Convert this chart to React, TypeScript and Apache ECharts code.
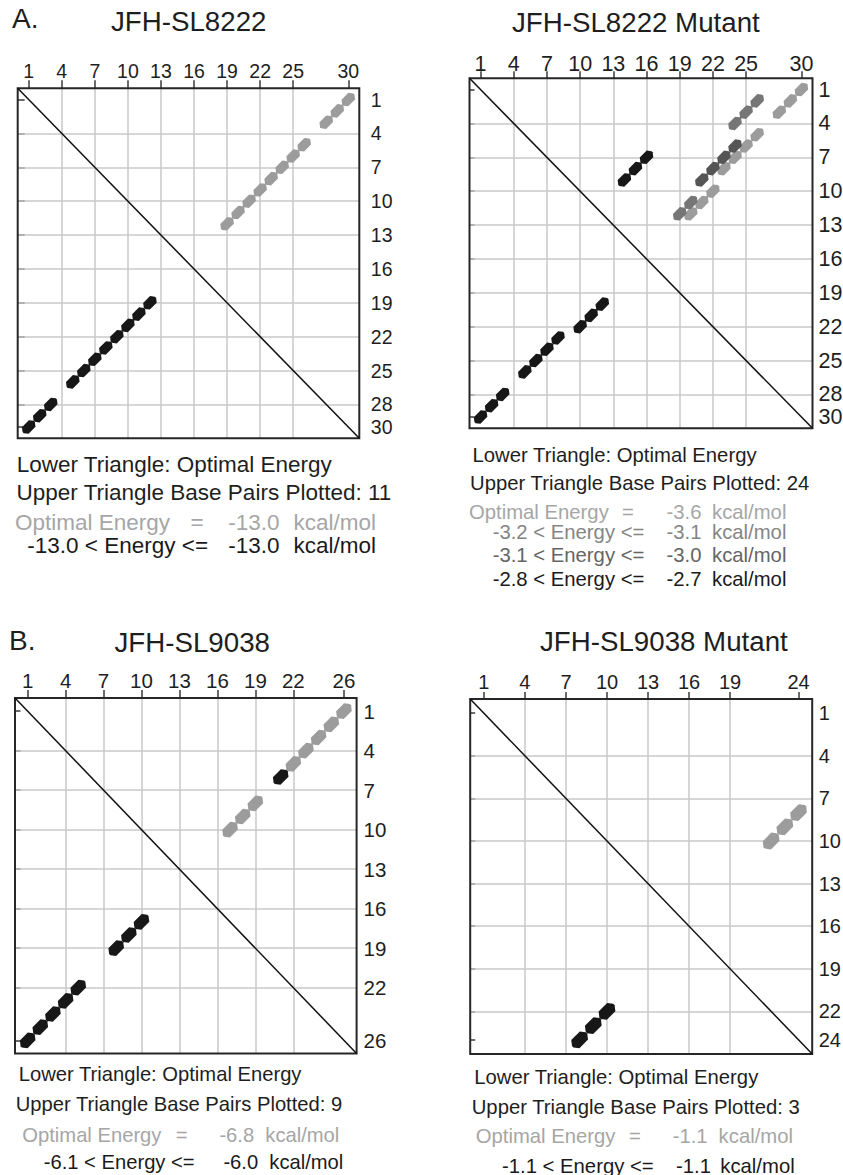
import React, { useEffect, useRef } from "react";
import * as echarts from "echarts";

const FONT = "'Liberation Sans', Arial, Helvetica, sans-serif";

// ---------- Data ----------
// Panel A1: JFH-SL8222
const A1_TITLE = "JFH-SL8222";
const A1_N = 30;
const A1_X_TICKS = [1, 4, 7, 10, 13, 16, 19, 22, 25, 30];
const A1_Y_TICKS = [1, 4, 7, 10, 13, 16, 19, 22, 25, 28, 30];
const A1_OPTIMAL = [[1, 30], [2, 29], [3, 28], [5, 26], [6, 25], [7, 24], [8, 23], [9, 22], [10, 21], [11, 20], [12, 19]];
const A1_ENERGY_LABELS = ["Optimal Energy", "-13.0 < Energy <="];
const A1_ENERGY_VALUES = ["-13.0", "-13.0"];
const A1_PAIR_COUNT = 11;

// Panel A2: JFH-SL8222 Mutant
const A2_TITLE = "JFH-SL8222 Mutant";
const A2_N = 30;
const A2_X_TICKS = [1, 4, 7, 10, 13, 16, 19, 22, 25, 30];
const A2_Y_TICKS = [1, 4, 7, 10, 13, 16, 19, 22, 25, 28, 30];
const A2_OPTIMAL = [[1, 30], [2, 29], [3, 28], [5, 26], [6, 25], [7, 24], [8, 23], [10, 22], [11, 21], [12, 20]];
const A2_SUB1 = [[2, 26], [3, 25], [4, 24], [11, 20], [12, 19]];
const A2_SUB2 = [[6, 24], [7, 23], [8, 22], [9, 21]];
const A2_SUB3 = [[7, 16], [8, 15], [9, 14]];
const A2_ENERGY_LABELS = ["Optimal Energy", "-3.2 < Energy <=", "-3.1 < Energy <=", "-2.8 < Energy <="];
const A2_ENERGY_VALUES = ["-3.6", "-3.1", "-3.0", "-2.7"];
const A2_PAIR_COUNT = 24;

// Panel B1: JFH-SL9038
const B1_TITLE = "JFH-SL9038";
const B1_N = 26;
const B1_X_TICKS = [1, 4, 7, 10, 13, 16, 19, 22, 26];
const B1_Y_TICKS = [1, 4, 7, 10, 13, 16, 19, 22, 26];
const B1_OPTIMAL = [[1, 26], [2, 25], [3, 24], [4, 23], [5, 22], [8, 19], [9, 18], [10, 17]];
const B1_SUB1 = [[6, 21]];
const B1_ENERGY_LABELS = ["Optimal Energy", "-6.1 < Energy <="];
const B1_ENERGY_VALUES = ["-6.8", "-6.0"];
const B1_PAIR_COUNT = 9;

// Panel B2: JFH-SL9038 Mutant
const B2_TITLE = "JFH-SL9038 Mutant";
const B2_N = 24;
const B2_X_TICKS = [1, 4, 7, 10, 13, 16, 19, 24];
const B2_Y_TICKS = [1, 4, 7, 10, 13, 16, 19, 22, 24];
const B2_OPTIMAL = [[8, 24], [9, 23], [10, 22]];
const B2_ENERGY_LABELS = ["Optimal Energy", "-1.1 < Energy <="];
const B2_ENERGY_VALUES = ["-1.1", "-1.1"];
const B2_PAIR_COUNT = 3;

// ---------- Styles ----------
const C_OPT = "#9c9c9c";
const C_MID = "#767676";
const C_DARK = "#555555";
const C_BLACK = "#171717";
const T_OPT = "#a6a6a6";
const T_MID = "#858585";
const T_DARK = "#656565";
const T_BLACK = "#1a1a1a";
const TEXT = "#1e1e1e";
const DOT_PATH = "path://M0,4.2 L4,0.2 L17,0.2 L21,4.2 L21,5.8 L17,9.8 L4,9.8 L0,5.8 Z";

type Panel = {
  title: string;
  label?: string;
  n: number;
  xTicks: number[];
  yTicks: number[];
  optimal: number[][];
  upper: { pairs: number[][]; color: string }[];
  energyLabels: string[];
  energyValues: string[];
  energyColors: string[];
  count: number;
  L: any;
};

const panels: Panel[] = [
  {
    title: A1_TITLE, label: "A.", n: A1_N, xTicks: A1_X_TICKS, yTicks: A1_Y_TICKS,
    optimal: A1_OPTIMAL,
    upper: [{ pairs: A1_OPTIMAL, color: C_OPT }],
    energyLabels: A1_ENERGY_LABELS, energyValues: A1_ENERGY_VALUES,
    energyColors: [T_OPT, T_BLACK], count: A1_PAIR_COUNT,
    L: {
      grid: { left: 17.7, top: 88.3, width: 341.6, height: 350 },
      tickFont: 19.5, topTick: 8, topMargin: 7, rightTick: 7, rightMargin: 11.5,
      dotL: 15.8, dotW: 9.4,
      titleX: 111, titleY: 21.7, labelX: 12, labelY: 18.8, labelFont: 28,
      font: 22.5,
      lines: [[16.7, 464.2], [16.5, 492.5]],
      rows: [
        { y: 522.8, x: 15, eq: 190.5, v: 228.3, u: 293.5 },
        { y: 545.8, x: 27.3, v: 228.3, u: 293.5 },
      ],
    },
  },
  {
    title: A2_TITLE, n: A2_N, xTicks: A2_X_TICKS, yTicks: A2_Y_TICKS,
    optimal: A2_OPTIMAL,
    upper: [
      { pairs: A2_OPTIMAL, color: C_OPT },
      { pairs: A2_SUB1, color: C_MID },
      { pairs: A2_SUB2, color: C_DARK },
      { pairs: A2_SUB3, color: C_BLACK },
    ],
    energyLabels: A2_ENERGY_LABELS, energyValues: A2_ENERGY_VALUES,
    energyColors: [T_OPT, T_MID, T_DARK, T_BLACK], count: A2_PAIR_COUNT,
    L: {
      grid: { left: 469.5, top: 78.3, width: 343, height: 350 },
      tickFont: 21.5, topTick: 7, topMargin: 3.5, rightTick: 5, rightMargin: 6,
      dotL: 15.8, dotW: 9.4,
      titleX: 512, titleY: 22,
      font: 20.3,
      lines: [[472.5, 455.3], [470, 483.3]],
      rows: [
        { y: 511.7, x: 469, eq: 622, v: 666.5, u: 712 },
        { y: 531.7, x: 492.7, v: 666.5, u: 712 },
        { y: 554.8, x: 492.7, v: 666.5, u: 712 },
        { y: 579.2, x: 492.7, v: 666.5, u: 712 },
      ],
    },
  },
  {
    title: B1_TITLE, label: "B.", n: B1_N, xTicks: B1_X_TICKS, yTicks: B1_Y_TICKS,
    optimal: B1_OPTIMAL,
    upper: [
      { pairs: B1_OPTIMAL, color: C_OPT },
      { pairs: B1_SUB1, color: C_BLACK },
    ],
    energyLabels: B1_ENERGY_LABELS, energyValues: B1_ENERGY_VALUES,
    energyColors: [T_OPT, T_BLACK], count: B1_PAIR_COUNT,
    L: {
      grid: { left: 15, top: 698, width: 341.6, height: 355.5 },
      tickFont: 20.5, topTick: 8, topMargin: 6.8, rightTick: 5.5, rightMargin: 7,
      dotL: 18.2, dotW: 10.8,
      titleX: 114.5, titleY: 642.5, labelX: 9, labelY: 640, labelFont: 28,
      font: 20.2,
      lines: [[18.7, 1074.3], [15.7, 1104.2]],
      rows: [
        { y: 1134.5, x: 22.3, eq: 175.7, v: 219.4, u: 265.3 },
        { y: 1162.2, x: 43.7, v: 223.4, u: 269.3 },
      ],
    },
  },
  {
    title: B2_TITLE, n: B2_N, xTicks: B2_X_TICKS, yTicks: B2_Y_TICKS,
    optimal: B2_OPTIMAL,
    upper: [{ pairs: B2_OPTIMAL, color: C_OPT }],
    energyLabels: B2_ENERGY_LABELS, energyValues: B2_ENERGY_VALUES,
    energyColors: [T_OPT, T_BLACK], count: B2_PAIR_COUNT,
    L: {
      grid: { left: 470.2, top: 699, width: 342, height: 355 },
      tickFont: 20, topTick: 7, topMargin: 6.8, rightTick: 5, rightMargin: 6.5,
      dotL: 19.6, dotW: 11.6,
      titleX: 540, titleY: 641.7,
      font: 20.3,
      lines: [[474.2, 1077], [471.7, 1107]],
      rows: [
        { y: 1135.5, x: 475.7, eq: 629, v: 672.7, u: 718.6 },
        { y: 1165.5, x: 502, v: 676, u: 720.3 },
      ],
    },
  },
];

function txt(x: number, y: number, text: string, size: number, color: string) {
  return {
    type: "text",
    x,
    y,
    silent: true,
    style: {
      text,
      fill: color,
      fontSize: size,
      fontFamily: FONT,
      align: "left",
      verticalAlign: "middle",
      textAlign: "left",
      textVerticalAlign: "middle",
    },
  };
}

function buildOption() {
  const grid: any[] = [];
  const xAxis: any[] = [];
  const yAxis: any[] = [];
  const series: any[] = [];
  const graphic: any[] = [];

  panels.forEach((p, idx) => {
    const L = p.L;
    grid.push({
      ...L.grid,
      show: true,
      borderColor: "#262626",
      borderWidth: 2,
      backgroundColor: "transparent",
      containLabel: false,
      outerBoundsMode: "none",
      z: 3,
    });
    const labelStyle = { fontSize: L.tickFont, fontFamily: FONT, color: TEXT };
    xAxis.push({
      gridIndex: idx,
      type: "value",
      position: "top",
      min: 0,
      max: p.n + 1,
      axisLine: { show: false },
      splitLine: { show: false },
      axisTick: {
        show: true, inside: false, length: L.topTick,
        lineStyle: { color: "#3a3a3a", width: 1.5 },
        customValues: p.xTicks,
      },
      axisLabel: { show: true, margin: L.topMargin, ...labelStyle, customValues: p.xTicks },
    });
    yAxis.push({
      gridIndex: idx,
      type: "value",
      position: "right",
      inverse: true,
      min: 0,
      max: p.n + 1,
      axisLine: { show: false },
      splitLine: { show: false },
      axisTick: {
        show: true, inside: false, length: L.rightTick,
        lineStyle: { color: "#3a3a3a", width: 1.5 },
        customValues: p.yTicks,
      },
      axisLabel: { show: true, margin: L.rightMargin, align: "left", ...labelStyle, customValues: p.yTicks },
    });

    const gridX = p.xTicks.filter((v) => v !== 1 && v !== p.n);
    const gridY = p.yTicks.filter((v) => v !== 1 && v !== p.n);

    // diagonal + grid lines
    series.push({
      type: "line",
      xAxisIndex: idx,
      yAxisIndex: idx,
      data: [[0, 0], [p.n + 1, p.n + 1]],
      symbol: "none",
      silent: true,
      z: 4,
      lineStyle: { color: "#111111", width: 1.5 },
      markLine: {
        silent: true,
        z: 1,
        symbol: ["none", "none"],
        label: { show: false },
        emphasis: { disabled: true },
        lineStyle: { color: "#c9c9c9", width: 1.5, type: "solid" },
        data: [...gridX.map((v) => ({ xAxis: v })), ...gridY.map((v) => ({ yAxis: v }))],
      },
    });

    const dotBase = {
      type: "scatter",
      xAxisIndex: idx,
      yAxisIndex: idx,
      symbol: DOT_PATH,
      symbolSize: [L.dotL, L.dotW],
      symbolRotate: 45,
      symbolKeepAspect: false,
      silent: true,
      z: 6,
    };
    // lower triangle: optimal structure, black
    series.push({
      ...dotBase,
      itemStyle: { color: C_BLACK, opacity: 1 },
      data: p.optimal.map(([i, j]) => [i, j]),
    });
    // upper triangle: energy classes
    p.upper.forEach((cls) => {
      series.push({
        ...dotBase,
        itemStyle: { color: cls.color, opacity: 1 },
        data: cls.pairs.map(([i, j]) => [j, i]),
      });
    });

    // texts
    graphic.push(txt(L.titleX, L.titleY, p.title, 27.7, TEXT));
    if (p.label) graphic.push(txt(L.labelX, L.labelY, p.label, L.labelFont, TEXT));
    graphic.push(txt(L.lines[0][0], L.lines[0][1], "Lower Triangle: Optimal Energy", L.font, TEXT));
    graphic.push(
      txt(L.lines[1][0], L.lines[1][1], "Upper Triangle Base Pairs Plotted: " + p.count, L.font, TEXT)
    );
    L.rows.forEach((r: any, k: number) => {
      const c = p.energyColors[k];
      graphic.push(txt(r.x, r.y, p.energyLabels[k], L.font, c));
      if (r.eq !== undefined) graphic.push(txt(r.eq, r.y, "=", L.font, c));
      graphic.push(txt(r.v, r.y, p.energyValues[k], L.font, c));
      graphic.push(txt(r.u, r.y, "kcal/mol", L.font, c));
    });
  });

  return {
    animation: false,
    backgroundColor: "#ffffff",
    grid,
    xAxis,
    yAxis,
    series,
    graphic: { elements: graphic },
  };
}

export default function App() {
  const ref = useRef<HTMLDivElement>(null);
  useEffect(() => {
    document.body.style.margin = "0";
    if (!ref.current) return;
    const chart = echarts.init(ref.current, undefined, { renderer: "svg" });
    chart.setOption(buildOption() as any);
    return () => chart.dispose();
  }, []);
  return (
    <div
      ref={ref}
      style={{ position: "absolute", left: 0, top: 0, width: 843, height: 1175, background: "#fff" }}
    />
  );
}
